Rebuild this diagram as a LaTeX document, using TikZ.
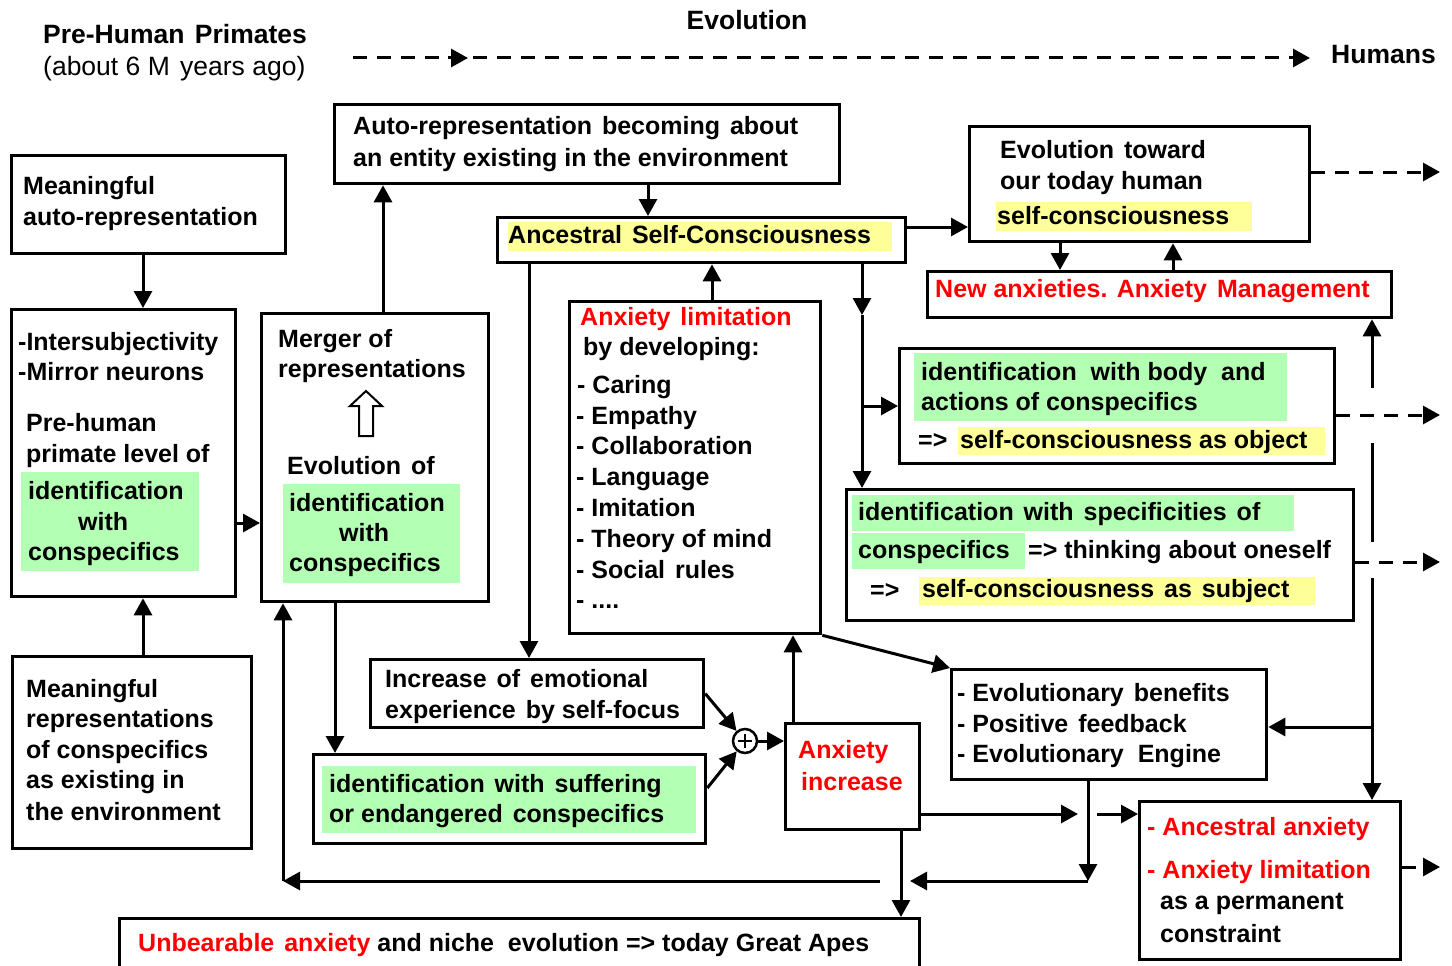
\documentclass[tikz,border=0pt]{standalone}
\usepackage{fontspec}
\setmainfont{Liberation Sans}
\usetikzlibrary{arrows.meta,calc}
\definecolor{hlgreen}{RGB}{179,255,179}
\definecolor{hlyellow}{RGB}{255,255,153}
\definecolor{redtxt}{RGB}{255,0,0}
\newcommand\mybox[5]{\node[box, minimum width=#4pt, minimum height=#5pt] (#1) at (#2,#3) {};}
\newcommand\ws{\hspace{3pt}\ }
\begin{document}
\begin{tikzpicture}[x=1pt,y=-1pt,
  box/.style={draw, line width=3.3pt, inner sep=0pt, anchor=north west},
  txt/.style={anchor=base west, inner sep=0pt, font=\fontsize{25}{31}\selectfont\bfseries},
  rtxt/.style={txt, text=redtxt},
  big/.style={anchor=base west, inner sep=0pt, font=\fontsize{26.5}{32}\selectfont\bfseries},
  arr/.style={line width=3pt, -{Triangle[length=17pt,width=18pt]}},
  ln/.style={line width=3pt},
  dsh/.style={line width=3pt, dash pattern=on 14pt off 10pt, -{Triangle[length=17pt,width=18pt]}},
]
\useasboundingbox (0,0) rectangle (1452,966);
\clip (0,0) rectangle (1452,966);

% ---------- top labels ----------
\node[big] (pre) at (43,44) {Pre-Human\ws Primates};
\node[big, font=\fontsize{26.5}{32}\selectfont] (ago) at (43,76) {(about 6 M\ws years ago)};
\node[big, anchor=base] (evol) at (747,30) {Evolution};
\node[big] (hum) at (1331,64) {Humans};
\coordinate (evS) at (353,58);
\coordinate (evE) at (1310,58);
\coordinate (evM) at (468,58);
\draw[dsh] (evS) -- (evE);
\draw[arr] ([xshift=-20pt]evM) -- (evM);

% ---------- boxes ----------
\mybox{ma}{10}{154}{274}{98}
\mybox{inter}{10}{308}{224}{287}
\mybox{merger}{260}{312}{227}{288}
\mybox{mrep}{11}{655}{239}{192}
\mybox{autorep}{333}{103}{505}{79}
\mybox{asc}{496}{216}{408}{45}
\mybox{evo}{968}{125}{340}{115}
\mybox{newanx}{926}{270}{464}{46}
\mybox{body}{898}{347}{435}{115}
\mybox{spec}{845}{488}{507}{131}
\mybox{anxlim}{568}{300}{251}{332}
\mybox{incr}{369}{658}{333}{68}
\mybox{suff}{312}{753}{392}{89}
\mybox{aincr}{784}{722}{134}{106}
\mybox{evben}{950}{668}{315}{110}
\mybox{ancanx}{1138}{800}{261}{158}
\mybox{unb}{118}{917}{800}{70}

% ---------- highlights ----------
\fill[hlgreen] (21,472) rectangle (199,571);
\fill[hlgreen] (283,484) rectangle (460,583);
\fill[hlyellow] (508,222) rectangle (892,251);
\fill[hlyellow] (996,202) rectangle (1252,231);
\fill[hlgreen] (914,353) rectangle (1287,421);
\fill[hlyellow] (958,427) rectangle (1325,455);
\fill[hlgreen] (852,495) rectangle (1294,531);
\fill[hlgreen] (852,533) rectangle (1025,569);
\fill[hlyellow] (919,577) rectangle (1315,605);
\fill[hlgreen] (322,766) rectangle (696,833);

% ---------- texts ----------
\node[txt] (ma1) at (23,194) {Meaningful};
\node[txt] (ma2) at (23,225) {auto-representation};

\node[txt] (in1) at (18,350) {-Intersubjectivity};
\node[txt] (in2) at (18,380) {-Mirror neurons};
\node[txt] (in3) at (26,431) {Pre-human};
\node[txt] (in4) at (26,462) {primate level of};
\node[txt] (in5) at (28,499) {identification};
\node[txt] (in6) at (78,530) {with};
\node[txt] (in7) at (28,560) {conspecifics};

\node[txt] (me1) at (278,347) {Merger of};
\node[txt] (me2) at (278,377) {representations};
\node[txt] (me3) at (287,474) {Evolution\ws of};
\node[txt] (me4) at (289,511) {identification};
\node[txt] (me5) at (339,541) {with};
\node[txt] (me6) at (289,571) {conspecifics};
\draw[line width=2pt, fill=white] (366,391) -- (382,406) -- (373,406) -- (373,436) -- (359,436) -- (359,406) -- (350,406) -- cycle;

\node[txt] (mr1) at (26,697) {Meaningful};
\node[txt] (mr2) at (26,727) {representations};
\node[txt] (mr3) at (26,758) {of conspecifics};
\node[txt] (mr4) at (26,788) {as existing in};
\node[txt] (mr5) at (26,820) {the environment};

\node[txt] (au1) at (353,135) {Auto-representation\ws becoming\ws about};
\node[txt] (au2) at (353,166) {an entity existing in the environment};

\node[txt] (as1) at (508,243) {Ancestral\ws Self-Consciousness};

\node[txt] (ev1) at (1000,158) {Evolution\ws toward};
\node[txt] (ev2) at (1000,189) {our today human};
\node[txt] (ev3) at (997,224) {self-consciousness};

\node[rtxt] (na1) at (935,297) {New anxieties. Anxiety\ws Management};

\node[txt] (bo1) at (921,380) {identification\ \ with body\ \ and};
\node[txt] (bo2) at (921,410) {actions of conspecifics};
\node[txt] (bo3) at (918,448) {=>};
\node[txt] (bo4) at (960,448) {self-consciousness as object};

\node[txt] (sp1) at (858,520) {identification\ws with\ws specificities\ws of};
\node[txt] (sp2) at (858,558) {conspecifics};
\node[txt] (sp3) at (1028,558) {=> thinking about oneself};
\node[txt] (sp4) at (870,598) {=>};
\node[txt] (sp5) at (922,597) {self-consciousness\ws as\ws subject};

\node[rtxt] (al1) at (580,325) {Anxiety\ws limitation};
\node[txt] (al2) at (583,355) {by developing:};
\node[txt] (al3) at (577,393) {- Caring};
\node[txt] (al4) at (576,424) {- Empathy};
\node[txt] (al5) at (576,454) {- Collaboration};
\node[txt] (al6) at (576,485) {- Language};
\node[txt] (al7) at (576,516) {- Imitation};
\node[txt] (al8) at (576,547) {- Theory of mind};
\node[txt] (al9) at (576,578) {- Social\ws rules};
\node[txt] (al10) at (576,608) {- ....};

\node[txt] (ic1) at (385,687) {Increase\ws of\ws emotional};
\node[txt] (ic2) at (385,718) {experience\ws by self-focus};

\node[txt] (su1) at (329,792) {identification\ws with\ws suffering};
\node[txt] (su2) at (329,822) {or endangered\ws conspecifics};

\node[rtxt] (ai1) at (798,758) {Anxiety};
\node[rtxt] (ai2) at (801,790) {increase};

\node[txt] (eb1) at (957,701) {- Evolutionary\ws benefits};
\node[txt] (eb2) at (957,732) {- Positive\ws feedback};
\node[txt] (eb3) at (957,762) {- Evolutionary\ \ Engine};

\node[rtxt] (aa1) at (1147,835) {- Ancestral anxiety};
\node[rtxt] (aa2) at (1147,878) {- Anxiety limitation};
\node[txt] (aa3) at (1160,909) {as a permanent};
\node[txt] (aa4) at (1160,942) {constraint};

\node[txt] (ub1) at (138,951) {{\color{redtxt}Unbearable\ws anxiety} and niche\ \ evolution => today Great Apes};

% ---------- sum circle ----------
\node[circle, draw, line width=2.5pt, minimum size=24pt, inner sep=0pt] (plus) at (745,741) {};
\draw[line width=2.5pt] ([xshift=-7pt]plus.center) -- ([xshift=7pt]plus.center)
  ([yshift=-7pt]plus.center) -- ([yshift=7pt]plus.center);

% ---------- guide coordinates ----------
\coordinate (x143) at (143,0);
\coordinate (y523) at (0,523);
\coordinate (x383) at (383,0);
\coordinate (x648) at (648,0);
\coordinate (y227) at (0,227);
\coordinate (x712) at (712,0);
\coordinate (x529) at (529,0);
\coordinate (m315) at (862,315);
\coordinate (m406) at (862,406);
\coordinate (x1060) at (1060,0);
\coordinate (x1173) at (1173,0);
\coordinate (k388) at (1372,388);
\coordinate (k443) at (1372,443);
\coordinate (k542) at (1372,542);
\coordinate (k578) at (1372,578);
\coordinate (k727) at (1372,727);
\coordinate (y788) at (0,788);
\coordinate (x793) at (793,0);
\coordinate (x901) at (901,0);
\coordinate (a1076) at (1078,814);
\coordinate (a1097) at (1097,814);
\coordinate (e880) at (1088,881);
\coordinate (e912) at (910,881);
\coordinate (w880) at (880,881);
\coordinate (w283) at (283,881);
\coordinate (x335) at (335,0);
\coordinate (r172) at (1440,172);
\coordinate (r415) at (1440,415);
\coordinate (r562) at (1440,562);
\coordinate (r867) at (1440,867);

% ---------- connectors ----------
\draw[arr] (ma.south -| x143) -- (inter.north -| x143);
\draw[arr] (mrep.north -| x143) -- (inter.south -| x143);
\draw[arr] (inter.east |- y523) -- (merger.west |- y523);
\draw[arr] (merger.north -| x383) -- (autorep.south -| x383);
\draw[arr] (autorep.south -| x648) -- (asc.north -| x648);
\draw[arr] (asc.east |- y227) -- (evo.west |- y227);
\draw[arr] (anxlim.north -| x712) -- (asc.south -| x712);
\draw[arr] (asc.south -| x529) -- (incr.north -| x529);
\draw[arr] (asc.south -| m315) -- (m315);
\draw[arr] (m315) -- (spec.north -| m315);
\draw[arr] (m406) -- (body.west |- m406);
\draw[arr] (evo.south -| x1060) -- (newanx.north -| x1060);
\draw[arr] (newanx.north -| x1173) -- (evo.south -| x1173);
\draw[arr] (k388) -- (newanx.south -| k388);
\draw[ln] (k443) -- (k542);
\draw[arr] (k578) -- (ancanx.north -| k578);
\draw[arr] (k727) -- (evben.east |- k727);
\draw[arr] (anxlim.south east) -- (evben.north west);
\draw[arr] (incr.east) -- (plus);
\draw[arr] (suff.east |- y788) -- (plus);
\draw[arr] (plus.east) -- (plus -| aincr.west);
\draw[arr] (aincr.north -| x793) -- (anxlim.south -| x793);
\draw[arr] (aincr.south -| x901) -- (unb.north -| x901);
\draw[arr] (aincr.east |- a1076) -- (a1076);
\draw[arr] (a1097) -- (ancanx.west |- a1097);
\draw[arr] (evben.south -| e880) -- (e880);
\draw[arr] (e880) -- (e912);
\draw[arr] (w880) -- (w283);
\draw[arr] (w283) -- (merger.south -| w283);
\draw[arr] (merger.south -| x335) -- (suff.north -| x335);
\draw[dsh] (evo.east |- r172) -- (r172);
\draw[dsh] (body.east |- r415) -- (r415);
\draw[dsh] (spec.east |- r562) -- (r562);
\draw[dsh] (ancanx.east |- r867) -- (r867);
\end{tikzpicture}
\end{document}
